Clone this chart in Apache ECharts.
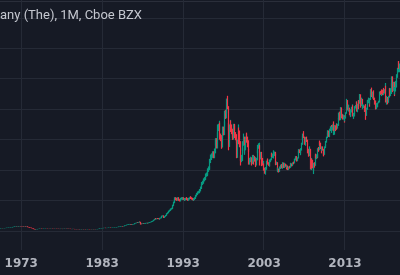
<!DOCTYPE html>
<html>
<head>
<meta charset="utf-8">
<script src="https://cdn.jsdelivr.net/npm/echarts@6/dist/echarts.min.js"></script>
<style>
html,body{margin:0;padding:0;background:#161a25;}
#chart{width:400px;height:275px;}
</style>
</head>
<body>
<div id="chart"></div>
<script>
// Visible title text (cropped in the reference)
const titleText = 'any (The), 1M, Cboe BZX';
// Monthly candles from June 1970 to October 2019
const startYear = 1970, startMonth = 6;
const firstOpen = 0.85;
// Year tick labels on the time axis
const yearTicks = ['1973', '1983', '1993', '2003', '2013'];
// Horizontal price grid levels
const priceGrid = [0, 10, 20, 30, 40, 50, 60, 70];

const close = [
  0.86,0.88,0.90,0.92,0.91,0.93,0.95,
  0.96,0.98,1.00,1.02,1.05,1.08,1.10,1.12,1.15,1.18,1.20,1.25,
  1.30,1.35,1.40,1.45,1.48,1.50,1.48,1.52,1.50,1.55,1.58,1.60,
  1.58,1.55,1.52,1.55,1.50,1.52,1.48,1.45,1.50,1.48,1.30,1.25,
  1.15,1.10,1.05,1.00,0.95,0.85,0.75,0.65,0.55,0.50,0.55,0.58,
  0.62,0.65,0.68,0.72,0.75,0.78,0.74,0.72,0.70,0.74,0.76,0.78,
  0.80,0.82,0.80,0.78,0.76,0.78,0.75,0.74,0.76,0.78,0.76,0.74,
  0.72,0.70,0.71,0.73,0.72,0.70,0.68,0.70,0.68,0.66,0.68,0.70,
  0.68,0.66,0.68,0.72,0.74,0.72,0.75,0.78,0.76,0.72,0.70,0.72,
  0.70,0.68,0.66,0.64,0.66,0.68,0.66,0.64,0.62,0.60,0.58,0.60,
  0.58,0.55,0.52,0.55,0.58,0.56,0.60,0.62,0.60,0.58,0.60,0.58,
  0.56,0.58,0.60,0.62,0.60,0.58,0.56,0.55,0.54,0.56,0.58,0.60,
  0.58,0.56,0.55,0.58,0.60,0.62,0.65,0.70,0.78,0.85,0.88,0.90,
  0.92,0.95,0.98,1.00,1.02,1.00,0.98,1.00,1.02,1.05,1.08,1.10,
  1.08,1.05,1.08,1.10,1.12,1.15,1.18,1.20,1.22,1.25,1.28,1.30,
  1.35,1.40,1.45,1.50,1.55,1.60,1.58,1.55,1.60,1.65,1.80,1.90,
  1.95,2.00,2.10,2.15,2.20,2.25,2.15,2.20,2.10,2.15,2.20,2.25,
  2.35,2.50,2.60,2.70,2.80,2.75,2.85,3.00,2.95,2.40,2.30,2.35,
  2.40,2.45,2.40,2.50,2.55,2.60,2.65,2.55,2.60,2.75,2.80,2.85,
  2.95,3.05,3.10,3.30,3.45,3.60,3.90,4.10,3.95,4.00,4.15,4.10,
  4.00,3.90,4.20,4.30,4.80,4.90,5.00,4.70,4.40,4.80,5.10,5.40,
  5.70,6.00,6.30,6.50,6.80,7.00,7.20,7.40,7.60,8.40,9.40,10.2,
  10.8,10.4,10.6,10.2,10.8,10.6,10.2,10.0,10.4,10.6,10.8,10.5,
  10.8,10.5,10.2,10.4,10.6,10.8,10.5,10.2,10.5,10.6,10.8,11.1,
  10.8,10.6,10.4,10.2,10.5,10.8,11.2,11.6,12.1,12.4,12.6,12.8,
  13.0,13.4,14.2,15.0,15.6,16.0,16.4,16.8,17.2,17.4,18.4,18.6,
  19.0,20.0,20.6,20.8,23.0,24.4,24.6,24.8,25.4,25.2,24.6,26.3,
  29.0,29.6,28.0,31.5,34.0,34.0,35.0,31.0,30.5,28.2,31.4,33.3,
  32.4,35.0,38.6,37.8,39.2,42.7,40.7,34.4,28.8,33.8,35.2,33.5,
  32.7,31.5,30.8,34.5,34.0,31.2,31.0,30.0,24.2,29.2,33.5,29.1,
  29.0,24.0,23.5,23.5,26.7,28.7,30.5,26.2,27.6,30.2,31.3,30.5,
  29.0,26.5,22.6,23.1,23.7,22.5,22.3,24.3,23.4,24.0,23.5,23.6,
  21.9,23.7,26.1,27.8,27.8,28.0,25.0,25.5,24.0,23.2,21.9,21.9,
  20.2,20.0,20.2,20.2,22.8,23.2,22.3,21.8,21.5,23.2,23.3,25.4,
  24.7,24.9,25.2,25.2,25.7,25.2,21.9,22.4,20.0,20.3,19.7,20.8,
  20.7,21.5,20.8,21.7,22.3,20.9,21.9,22.0,21.6,21.4,21.4,20.2,
  20.7,21.0,20.9,21.0,22.0,21.5,22.2,22.4,22.3,23.4,23.4,24.1,
  23.9,23.3,24.0,26.1,26.5,26.2,26.1,26.9,28.7,30.9,31.0,30.7,
  29.6,29.2,30.4,29.4,28.6,26.0,25.8,26.0,26.4,22.0,23.4,22.6,
  21.4,20.4,22.0,21.5,24.6,24.0,24.9,24.4,26.9,26.7,28.6,28.5,
  27.1,26.4,27.5,26.7,25.7,25.1,27.6,28.0,29.3,30.7,31.6,32.9,
  31.4,31.9,33.2,33.7,33.4,33.6,34.0,35.2,33.8,34.2,33.6,35.0,
  33.8,34.9,37.0,38.2,37.4,39.1,40.4,37.4,37.9,37.2,37.9,36.3,
  37.2,38.7,40.4,42.3,40.0,40.1,40.1,38.2,37.9,39.6,40.2,41.3,
  37.8,38.2,38.7,40.8,40.9,42.4,39.3,41.7,42.7,41.9,44.8,42.2,
  41.2,43.3,40.6,40.6,41.0,39.2,41.1,39.3,40.1,42.4,42.6,43.0,
  42.9,43.1,46.4,44.8,44.6,45.3,43.6,43.4,42.3,42.4,40.4,41.5,
  41.6,42.0,42.4,43.2,45.5,44.9,45.8,45.6,45.0,46.0,45.8,45.9,
  47.6,43.2,43.4,43.2,43.0,43.9,46.6,44.6,46.2,47.9,50.4,47.4,
  48.1,45.3,46.9,49.1,49.1,50.9,52.6,55.0,54.4,54.4
];

const high = [
  0.88,0.90,0.92,0.94,0.94,0.95,0.97,
  0.99,1.01,1.03,1.05,1.08,1.11,1.13,1.15,1.18,1.21,1.24,1.28,
  1.34,1.39,1.44,1.49,1.52,1.54,1.54,1.56,1.56,1.59,1.62,1.64,
  1.65,1.62,1.59,1.59,1.58,1.56,1.56,1.52,1.54,1.55,1.51,1.34,
  1.29,1.19,1.14,1.09,1.04,0.98,0.88,0.78,0.68,0.58,0.58,0.61,
  0.65,0.68,0.71,0.75,0.78,0.81,0.80,0.76,0.74,0.76,0.79,0.81,
  0.83,0.85,0.84,0.82,0.80,0.80,0.80,0.77,0.78,0.80,0.80,0.78,
  0.76,0.74,0.73,0.75,0.75,0.74,0.72,0.72,0.72,0.70,0.70,0.72,
  0.72,0.70,0.70,0.74,0.76,0.76,0.77,0.80,0.80,0.78,0.74,0.74,
  0.74,0.72,0.70,0.68,0.68,0.70,0.70,0.68,0.66,0.64,0.62,0.62,
  0.62,0.60,0.57,0.57,0.60,0.60,0.62,0.64,0.64,0.62,0.62,0.62,
  0.60,0.60,0.62,0.64,0.64,0.62,0.60,0.58,0.57,0.58,0.60,0.62,
  0.62,0.60,0.58,0.60,0.62,0.64,0.67,0.72,0.80,0.88,0.91,0.93,
  0.95,0.98,1.01,1.03,1.05,1.05,1.03,1.03,1.05,1.08,1.11,1.13,
  1.13,1.11,1.11,1.13,1.15,1.18,1.21,1.24,1.26,1.29,1.32,1.34,
  1.39,1.44,1.49,1.54,1.60,1.65,1.65,1.62,1.64,1.70,1.84,1.95,
  2.00,2.06,2.16,2.22,2.27,2.32,2.30,2.27,2.25,2.21,2.26,2.31,
  2.42,2.57,2.68,2.78,2.88,2.88,2.93,3.08,3.08,3.02,2.47,2.42,
  2.47,2.52,2.52,2.57,2.62,2.67,2.72,2.72,2.67,2.82,2.88,2.93,
  3.03,3.14,3.19,3.39,3.55,3.70,4.01,4.22,4.22,4.12,4.27,4.27,
  4.22,4.12,4.32,4.43,4.94,5.05,5.15,5.15,4.84,4.94,5.25,5.56,
  5.87,6.18,6.49,6.70,7.00,7.21,7.42,7.62,7.83,8.65,9.68,10.5,
  11.1,11.1,10.9,10.9,11.1,11.1,10.9,10.5,10.7,10.9,11.1,11.1,
  11.1,11.1,10.8,10.7,10.9,11.1,11.1,10.8,10.8,10.9,11.1,11.4,
  11.4,11.1,10.9,10.7,10.8,11.1,11.5,11.9,12.5,12.8,13.0,13.2,
  13.4,13.8,14.6,15.4,16.1,16.5,16.9,17.3,17.7,17.9,18.9,19.2,
  19.6,20.6,21.2,21.4,23.7,25.1,25.3,25.5,26.2,26.2,26.0,27.1,
  29.9,30.5,30.5,32.4,35.0,35.2,36.2,35.6,32.0,31.5,32.3,34.3,
  34.3,36.0,39.5,39.8,40.3,43.5,44.4,41.0,35.5,35.0,36.5,36.3,
  35.0,33.6,32.6,35.2,35.2,34.7,32.5,31.8,30.5,30.0,35.0,34.0,
  33.0,29.5,24.8,25.0,27.2,29.5,32.0,31.0,28.2,31.0,32.0,32.3,
  31.0,29.8,27.0,24.0,24.4,24.2,23.2,25.0,25.0,24.8,24.6,24.3,
  23.8,24.0,26.5,28.3,28.8,29.0,28.2,26.0,26.0,24.8,24.0,23.0,
  22.2,20.8,20.9,21.0,23.1,23.7,23.8,22.6,22.8,23.5,23.8,25.8,
  25.6,25.4,25.7,26.5,26.1,26.0,25.4,22.8,22.6,20.8,20.5,21.2,
  21.3,21.8,22.0,22.0,22.6,22.5,22.2,22.4,22.1,21.8,21.6,21.5,
  21.0,21.2,21.4,21.4,22.4,22.2,22.4,22.5,22.8,23.6,23.8,24.6,
  24.6,24.2,24.2,26.3,26.9,26.8,26.9,27.2,29.0,31.2,32.0,32.8,
  31.0,30.5,30.9,31.0,30.0,28.8,27.0,27.0,27.8,27.0,24.0,23.8,
  23.4,22.2,22.4,22.6,25.1,25.4,25.2,25.2,27.2,27.6,29.2,29.7,
  29.0,27.4,27.8,27.8,27.0,26.5,27.8,28.5,29.6,31.0,32.3,33.1,
  33.0,32.4,33.6,34.4,34.8,34.2,35.0,35.5,36.0,34.8,34.7,35.4,
  35.2,35.2,37.2,38.9,39.2,39.2,40.7,40.6,38.5,38.3,38.2,38.0,
  37.6,39.0,40.6,43.4,43.0,41.5,41.4,40.5,39.5,40.0,40.8,41.6,
  41.2,38.8,38.9,41.0,41.4,42.6,42.5,41.8,43.0,43.0,45.0,44.9,
  43.0,43.8,43.4,41.6,41.5,41.2,41.7,41.6,40.5,43.0,43.1,43.8,
  43.5,43.6,46.6,47.1,45.5,45.8,46.2,44.2,43.8,42.9,42.8,42.0,
  42.0,42.2,42.8,43.5,45.8,46.0,46.1,46.5,46.4,46.5,47.0,46.6,
  48.6,47.7,44.4,44.0,43.5,44.4,47.0,46.9,46.9,48.6,50.8,50.8,
  49.0,49.0,47.3,49.3,49.4,51.5,53.6,55.8,55.8,55.0
];

const low = [
  0.83,0.84,0.86,0.88,0.89,0.89,0.91,
  0.93,0.94,0.96,0.98,1.00,1.02,1.05,1.07,1.09,1.12,1.15,1.18,
  1.22,1.27,1.32,1.37,1.42,1.44,1.44,1.45,1.46,1.47,1.52,1.55,
  1.54,1.51,1.48,1.48,1.46,1.46,1.44,1.41,1.42,1.44,1.26,1.18,
  1.10,1.05,1.00,0.96,0.91,0.81,0.71,0.61,0.50,0.44,0.48,0.52,
  0.56,0.60,0.63,0.66,0.70,0.73,0.72,0.69,0.67,0.68,0.72,0.74,
  0.76,0.78,0.78,0.76,0.74,0.74,0.73,0.72,0.72,0.74,0.74,0.72,
  0.70,0.68,0.68,0.69,0.70,0.68,0.66,0.66,0.66,0.64,0.64,0.66,
  0.66,0.64,0.64,0.66,0.70,0.70,0.70,0.73,0.74,0.69,0.67,0.68,
  0.68,0.66,0.64,0.62,0.62,0.64,0.64,0.62,0.60,0.57,0.56,0.56,
  0.56,0.53,0.49,0.50,0.53,0.54,0.54,0.58,0.58,0.56,0.56,0.55,
  0.54,0.54,0.56,0.58,0.58,0.56,0.54,0.53,0.52,0.52,0.54,0.56,
  0.56,0.54,0.53,0.53,0.56,0.58,0.60,0.63,0.68,0.76,0.83,0.85,
  0.87,0.90,0.93,0.95,0.97,0.97,0.95,0.95,0.97,0.99,1.02,1.05,
  1.05,1.02,1.02,1.05,1.07,1.09,1.12,1.15,1.17,1.19,1.22,1.25,
  1.27,1.32,1.37,1.42,1.47,1.52,1.53,1.50,1.51,1.56,1.62,1.76,
  1.85,1.90,1.95,2.04,2.09,2.14,2.08,2.10,2.03,2.04,2.10,2.14,
  2.19,2.30,2.44,2.53,2.63,2.68,2.68,2.78,2.87,2.10,2.22,2.23,
  2.28,2.33,2.33,2.33,2.43,2.48,2.53,2.48,2.48,2.53,2.68,2.72,
  2.77,2.87,2.96,3.01,3.20,3.35,3.49,3.78,3.83,3.83,3.88,3.98,
  3.88,3.78,3.78,4.07,4.17,4.66,4.75,4.56,4.27,4.27,4.66,4.95,
  5.24,5.53,5.82,6.11,6.31,6.60,6.79,6.98,7.18,7.37,8.15,9.12,
  9.9,10.1,10.1,9.9,9.9,10.3,9.9,9.7,9.7,10.1,10.3,10.2,
  10.2,10.2,9.9,9.9,10.1,10.3,10.2,9.9,9.9,10.2,10.3,10.5,
  10.5,10.3,10.1,9.9,9.9,10.2,10.5,10.9,11.3,11.8,12.1,12.3,
  12.4,12.6,13.0,13.8,14.6,15.1,15.5,15.9,16.3,16.7,16.9,17.8,
  18.0,18.4,19.4,20.0,20.2,22.3,23.3,23.6,24.0,24.4,23.9,23.9,
  25.5,28.1,27.1,27.1,30.6,32.8,33.0,30.0,29.5,27.0,27.4,30.5,
  31.4,31.5,34.2,36.8,37.0,38.6,40.0,33.0,26.5,27.6,33.0,32.5,
  31.8,30.6,29.9,30.0,33.0,30.5,29.8,29.0,23.9,24.0,28.8,28.5,
  27.5,23.0,21.5,22.6,23.0,26.2,28.0,25.5,25.0,26.5,29.5,29.0,
  27.5,26.0,21.8,21.8,22.6,21.8,21.5,22.0,21.8,22.8,22.8,22.6,
  21.0,21.5,23.2,25.6,27.0,26.6,21.5,23.5,23.6,21.3,21.5,21.2,
  19.8,18.8,18.5,19.5,20.1,22.2,21.8,21.4,21.2,21.2,22.6,23.2,
  24.3,24.0,23.8,24.9,24.6,24.8,21.6,21.7,19.8,19.3,19.2,19.4,
  20.4,20.4,20.6,20.4,21.5,20.7,20.7,21.6,21.1,20.2,20.8,20.0,
  20.0,20.3,20.5,20.8,20.8,21.2,21.3,21.8,21.9,22.2,23.0,23.2,
  23.6,22.8,22.9,23.8,25.6,25.6,25.5,24.9,26.4,28.3,29.9,30.5,
  28.6,28.3,28.0,29.2,28.4,25.5,24.4,25.4,24.6,20.2,20.0,20.5,
  20.6,19.8,18.7,20.8,21.4,23.8,23.6,23.9,24.1,26.0,26.5,28.0,
  26.9,25.5,26.3,26.4,24.5,24.8,25.0,27.2,27.8,29.0,30.5,31.2,
  30.9,30.8,31.6,32.8,33.0,32.2,33.0,31.5,32.8,31.6,32.8,33.2,
  33.3,33.6,34.5,36.6,36.3,36.4,38.3,37.0,37.0,36.6,36.6,35.6,
  36.0,36.9,38.5,40.2,39.6,39.2,39.7,38.0,37.5,37.4,38.9,39.5,
  37.6,36.8,37.6,38.4,40.2,40.6,39.2,39.0,41.0,40.0,41.8,41.0,
  40.5,41.0,40.2,40.0,40.4,39.1,39.0,36.5,37.8,39.8,41.8,42.0,
  40.8,41.6,43.0,44.3,44.0,43.5,43.3,43.0,41.5,41.8,39.9,40.0,
  40.7,40.6,41.9,42.2,43.0,44.7,44.3,45.0,44.6,44.6,45.3,45.1,
  45.5,42.2,41.5,42.2,41.6,42.1,43.8,44.2,44.3,45.0,47.6,45.6,
  46.0,44.3,44.8,45.8,47.1,48.9,50.3,52.1,53.2,52.1
];

// Build categories and candle tuples [open, close, low, high]
const n = Math.min(close.length, high.length, low.length);
const months = [];
const candles = [];
for (let i = 0; i < n; i++) {
  const k = startMonth - 1 + i;
  const y = startYear + Math.floor(k / 12);
  const m = (k % 12) + 1;
  months.push(y + '-' + (m < 10 ? '0' + m : m));
  const o = i === 0 ? firstOpen : close[i - 1];
  const c = close[i];
  candles.push([o, c, Math.min(low[i], o, c), Math.max(high[i], o, c)]);
}
const isYearTick = (v) => v.slice(5) === '01' && yearTicks.indexOf(v.slice(0, 4)) >= 0;

const chart = echarts.init(document.getElementById('chart'), null, {renderer: 'canvas', width: 400, height: 275});
chart.setOption({
  backgroundColor: '#161a25',
  animation: false,
  grid: {left: 0, right: 0, top: 0, bottom: 25},
  xAxis: {
    type: 'category',
    data: months,
    boundaryGap: true,
    axisLine: {show: false},
    axisTick: {show: false},
    axisLabel: {
      interval: (i, v) => isYearTick(v),
      formatter: (v) => v.slice(0, 4),
      color: '#b2b5be',
      fontSize: 12,
      fontWeight: 'bold',
      fontFamily: 'DejaVu Sans',
      margin: 8
    },
    splitLine: {show: true, interval: (i, v) => isYearTick(v), lineStyle: {color: '#252a36', width: 1}}
  },
  yAxis: {type: 'value', min: -6.24, max: 75.86, show: false, splitLine: {show: false}},
  graphic: [
    {type: 'line', silent: true, z: 0, shape: {x1: 0, y1: 1.5, x2: 400, y2: 1.5}, style: {stroke: '#2a2e3a', lineWidth: 1}},
    {type: 'text', left: 0, top: 9, z: 10, style: {text: titleText, fill: '#c4c7cf', font: '13px Roboto'}}
  ],
  series: [{
    type: 'candlestick',
    data: candles,
    barWidth: 1,
    z: 3,
    itemStyle: {color: '#089981', color0: '#f23645', borderColor: '#089981', borderColor0: '#f23645', borderWidth: 1.2},
    markLine: {
      silent: true,
      symbol: 'none',
      z: 1,
      animation: false,
      label: {show: false},
      emphasis: {disabled: true},
      lineStyle: {color: '#252a36', width: 1, type: 'solid'},
      data: priceGrid.map((v) => ({yAxis: v}))
    }
  }]
});
</script>
</body>
</html>
